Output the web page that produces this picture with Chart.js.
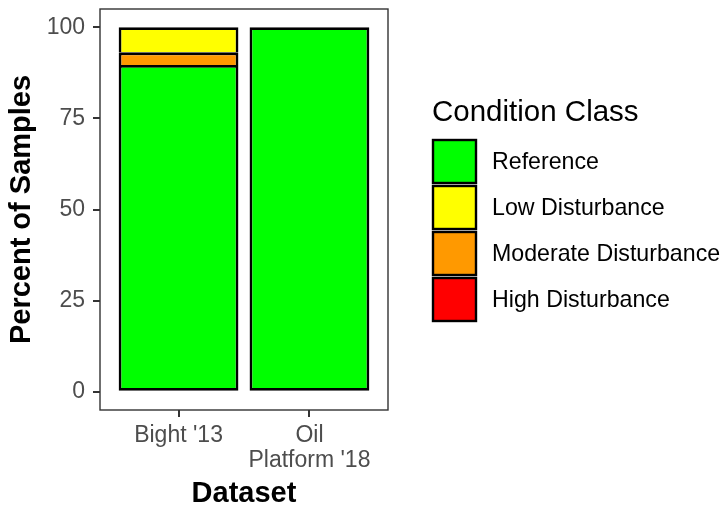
<!DOCTYPE html>
<html><head><meta charset="utf-8">
<script src="https://cdn.jsdelivr.net/npm/chart.js@4"></script>
<style>html,body{margin:0;padding:0;background:#fff}#c{display:block}</style>
</head><body>
<canvas id="c" width="725" height="508" style="width:725px;height:508px"></canvas>
<script>
const categories = ["Bight '13", ["Oil", "Platform '18"]];
const legendClasses = ["Reference", "Low Disturbance", "Moderate Disturbance", "High Disturbance"];
const stackOrder = ["Reference", "Moderate Disturbance", "Low Disturbance", "High Disturbance"];
const reference = [89.66, 100];
const lowDisturbance = [6.90, 0];
const moderateDisturbance = [3.45, 0];
const highDisturbance = [0, 0];
const yTicks = [0, 25, 50, 75, 100];

const colorOf = {
  "Reference": "#00FF00",
  "Low Disturbance": "#FFFF00",
  "Moderate Disturbance": "#FF9900",
  "High Disturbance": "#FF0000"
};
const valuesOf = {
  "Reference": reference,
  "Low Disturbance": lowDisturbance,
  "Moderate Disturbance": moderateDisturbance,
  "High Disturbance": highDisturbance
};
const FAM = "'Liberation Sans', Arial, sans-serif";

const datasets = stackOrder.map((name, k) => ({
  label: name,
  data: valuesOf[name].map((v, i) => ({ x: i + 1, y: v })),
  backgroundColor: colorOf[name],
  borderColor: "#000000",
  borderWidth: 2.8,
  borderSkipped: k === 0 ? false : "start",
  barPercentage: 0.915,
  categoryPercentage: 1.0
}));

const panelBorder = {
  id: "panelBorder",
  afterDatasetsDraw(chart) {
    const { ctx, chartArea: a } = chart;
    ctx.save();
    ctx.strokeStyle = "#333333";
    ctx.lineWidth = 1.4;
    ctx.strokeRect(a.left, a.top, a.right - a.left, a.bottom - a.top);
    ctx.restore();
  }
};

const ggLegend = {
  id: "ggLegend",
  afterDraw(chart) {
    const ctx = chart.ctx;
    ctx.save();
    ctx.fillStyle = "#000";
    ctx.font = "29.5px " + FAM;
    ctx.textBaseline = "alphabetic";
    ctx.textAlign = "left";
    ctx.fillText("Condition Class", 432, 121);
    legendClasses.forEach((name, i) => {
      const ds = chart.data.datasets.find(d => d.label === name);
      const x = 433, y = 140 + i * 46, s = 43;
      ctx.fillStyle = ds.backgroundColor;
      ctx.fillRect(x, y, s, s);
      ctx.strokeStyle = "#000";
      ctx.lineWidth = 2.4;
      ctx.strokeRect(x, y, s, s);
      ctx.fillStyle = "#000";
      ctx.font = "23.2px " + FAM;
      ctx.textBaseline = "middle";
      ctx.fillText(name, 492, y + s / 2 + 1);
    });
    ctx.restore();
  }
};

new Chart(document.getElementById("c"), {
  type: "bar",
  data: { datasets },
  plugins: [panelBorder, ggLegend],
  options: {
    responsive: false,
    animation: false,
    devicePixelRatio: 1,
    layout: { padding: { top: 9, right: 337, left: 0, bottom: 0 } },
    plugins: { legend: { display: false }, tooltip: { enabled: false } },
    scales: {
      x: {
        type: "linear",
        min: 0.4, max: 2.6,
        stacked: true,
        offset: false,
        afterBuildTicks: s => { s.ticks = categories.map((c, i) => ({ value: i + 1 })); },
        afterFit: s => { s.height = 98; s.paddingLeft = 0; s.paddingRight = 0; },
        ticks: {
          callback: (v, i) => categories[i],
          autoSkip: false, maxRotation: 0, minRotation: 0,
          color: "#4D4D4D",
          font: { size: 23, family: FAM, lineHeight: 1.05 },
          padding: 7
        },
        grid: { drawOnChartArea: false, offset: false, tickLength: 7, color: "#333333", lineWidth: 2 },
        border: { display: false },
        title: {
          display: true, text: "Dataset", color: "#000",
          font: { size: 29, weight: "bold", family: FAM },
          padding: { top: 0, bottom: -3 }
        }
      },
      y: {
        type: "linear",
        min: -5, max: 105,
        stacked: true,
        afterBuildTicks: s => { s.ticks = yTicks.map(v => ({ value: v })); },
        afterFit: s => { s.width = 100; s.paddingTop = 0; s.paddingBottom = 0; },
        ticks: {
          color: "#4D4D4D",
          font: { size: 23, family: FAM },
          padding: 8
        },
        grid: { drawOnChartArea: false, tickLength: 7, color: "#333333", lineWidth: 2 },
        border: { display: false },
        title: {
          display: true, text: "Percent of Samples", color: "#000",
          font: { size: 29, weight: "bold", family: FAM },
          padding: { top: 5, bottom: 0 }
        }
      }
    }
  }
});
</script>
</body></html>
